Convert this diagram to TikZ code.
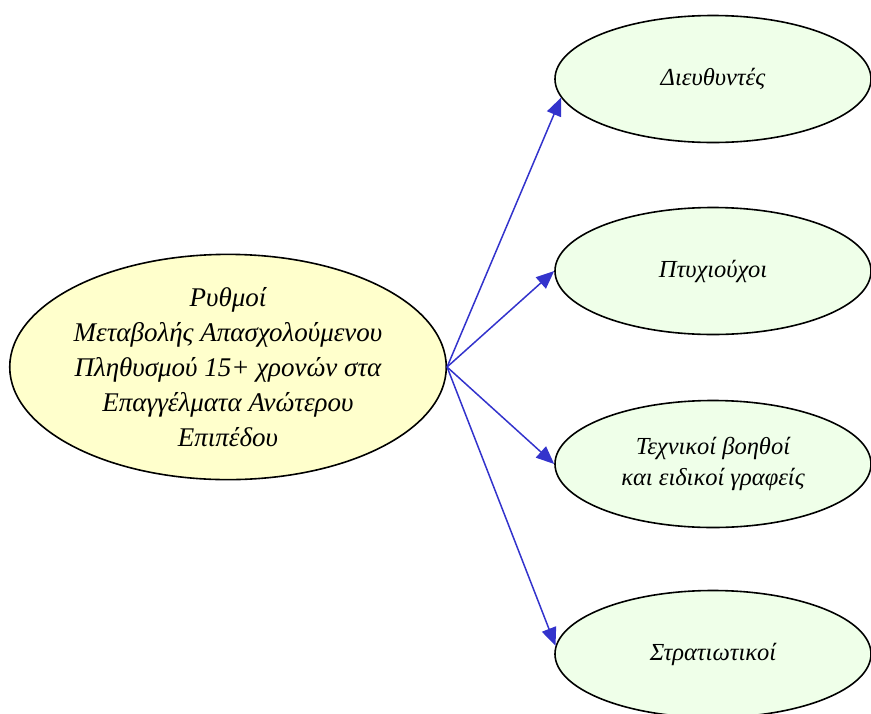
\documentclass[tikz,border=0pt]{standalone}
\usepackage{fontspec}
\setmainfont{Liberation Serif}
\usetikzlibrary{shapes.geometric,arrows.meta}
\definecolor{srcfill}{HTML}{FFFFCC}
\definecolor{dstfill}{HTML}{EFFFE9}
\definecolor{arrowblue}{HTML}{3333CC}
\tikzset{
  srcnode/.style={ellipse,draw=black,line width=1.6pt,fill=srcfill,minimum width=436pt,minimum height=205pt,inner sep=0pt,align=center,font=\fontsize{27}{35}\selectfont\itshape},
  dstnode/.style={ellipse,draw=black,line width=1.6pt,fill=dstfill,minimum width=316pt,minimum height=127pt,inner sep=0pt,align=center,font=\fontsize{24.5}{31}\selectfont\itshape},
  link/.style={draw=arrowblue,line width=1.5pt,-{Triangle[length=18pt,width=15pt]}}
}
\begin{document}
\begin{tikzpicture}[x=1pt,y=-1pt]
\useasboundingbox (0,0) rectangle (871,713);
\node[srcnode] (src) at (228,367) {Ρυθμοί\\Μεταβολής Απασχολούμενου\\Πληθυσμού 15+ χρονών στα\\Επαγγέλματα Ανώτερου\\Επιπέδου};
\node[dstnode] (d1) at (713,79) {Διευθυντές};
\node[dstnode] (d2) at (713,271) {Πτυχιούχοι};
\node[dstnode] (d3) at (713,464) {Τεχνικοί βοηθοί\\και ειδικοί γραφείς};
\node[dstnode] (d4) at (713,654) {Στρατιωτικοί};
\draw[link] (src.east) -- (d1.187);
\draw[link] (src.east) -- (d2.west);
\draw[link] (src.east) -- (d3.west);
\draw[link] (src.east) -- (d4.177);
\end{tikzpicture}
\end{document}
